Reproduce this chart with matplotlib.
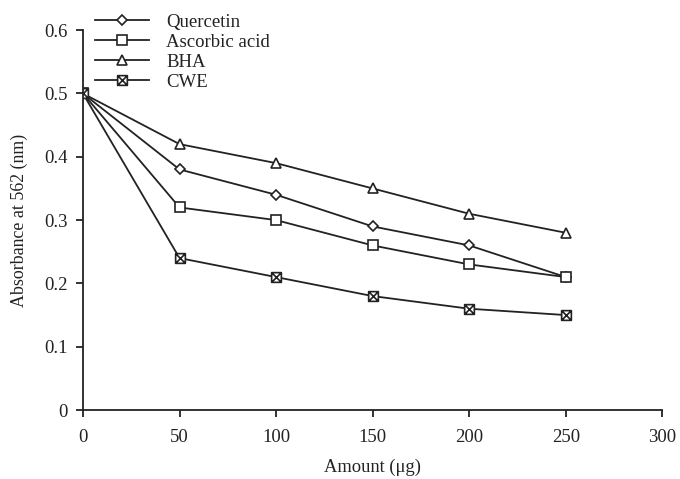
import numpy as np
import matplotlib.pyplot as plt
from matplotlib.path import Path

plt.rcParams['font.family'] = ['Liberation Serif', 'DejaVu Serif']

# Absorbance
amount = [0, 50, 100, 150, 200, 250]
quercetin = [0.50, 0.38, 0.34, 0.29, 0.26, 0.21]
ascorbic = [0.50, 0.32, 0.30, 0.26, 0.23, 0.21]
bha = [0.50, 0.42, 0.39, 0.35, 0.31, 0.28]
cwe = [0.50, 0.24, 0.21, 0.18, 0.16, 0.15]

# square with an X inside
box_x = Path([(-1, -1), (1, -1), (1, 1), (-1, 1), (-1, -1),
              (-1, -1), (1, 1), (-1, 1), (1, -1)],
             [Path.MOVETO, Path.LINETO, Path.LINETO, Path.LINETO, Path.CLOSEPOLY,
              Path.MOVETO, Path.LINETO, Path.MOVETO, Path.LINETO])

fig = plt.figure(figsize=(6.8, 4.79), dpi=100)
ax = fig.add_axes([0.122, 0.144, 0.852, 0.793])

style = dict(color='#222222', lw=1.3, mfc='white', mec='#222222', mew=1.2)
ax.plot(amount, quercetin, marker='D', ms=5.5, label='Quercetin', **style)
ax.plot(amount, ascorbic, marker='s', ms=7.5, label='Ascorbic acid', **style)
ax.plot(amount, bha, marker='^', ms=7.5, label='BHA', **style)
ax.plot(amount, cwe, marker=box_x, ms=7, label='CWE', **style)

ax.set_xlim(0, 300)
ax.set_ylim(0, 0.6)
ax.set_xticks(np.arange(0, 301, 50))
ax.set_yticks(np.arange(0, 0.61, 0.1))
ax.set_yticklabels(['0', '0.1', '0.2', '0.3', '0.4', '0.5', '0.6'])
ax.spines['top'].set_visible(False)
ax.spines['right'].set_visible(False)
for s in ['left', 'bottom']:
    ax.spines[s].set_linewidth(1.3)
    ax.spines[s].set_color('#222222')
ax.tick_params(direction='out', length=5, width=1.3, color='#222222',
               labelsize=13.5, labelcolor='#222222')
ax.tick_params(axis='x', pad=9)
ax.tick_params(axis='y', pad=6)
ax.set_xlabel('Amount (μg)', fontsize=13.3, color='#222222')
ax.set_ylabel('Absorbance at 562 (nm)', fontsize=12.9, color='#222222')
ax.xaxis.set_label_coords(0.5, -0.128)
ax.yaxis.set_label_coords(-0.095, 0.5)

fig.legend(loc='upper left', bbox_to_anchor=(0.139, 0.971), frameon=False,
           fontsize=13.5, handlelength=2.93, handletextpad=0.9,
           labelspacing=0.15, borderpad=0, borderaxespad=0,
           labelcolor='#222222')

fig.savefig('out.png', dpi=100)
